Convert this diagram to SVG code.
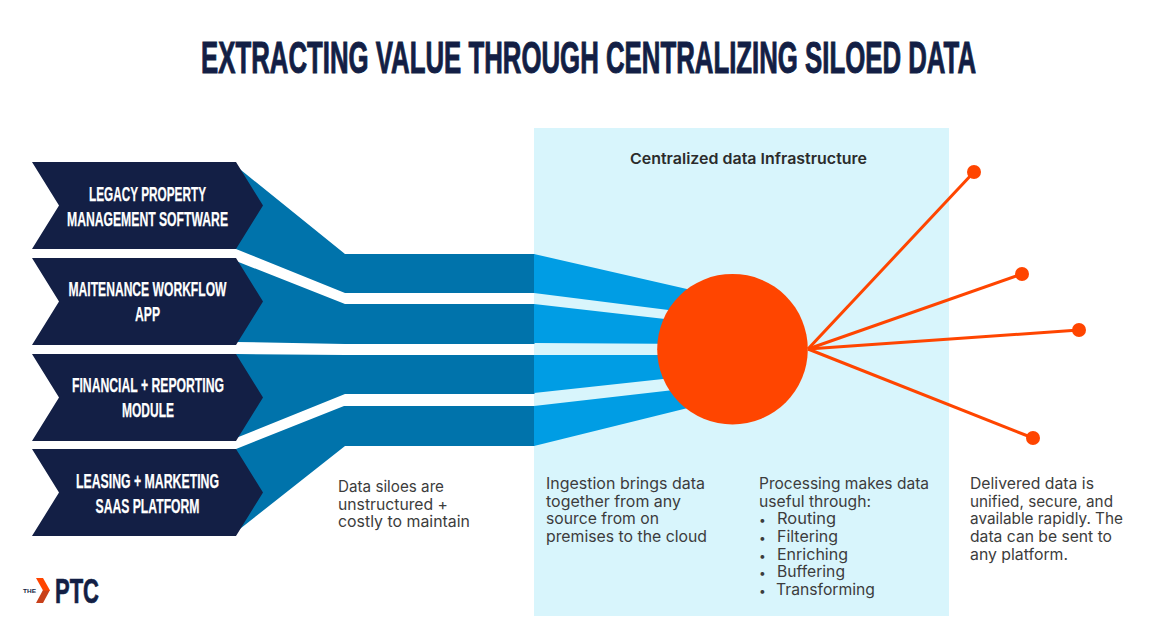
<svg xmlns="http://www.w3.org/2000/svg" width="1170" height="626" viewBox="0 0 1170 626">
<style>
.h{font-family:"Liberation Sans",Arial,sans-serif;font-weight:700;fill:#131F45;stroke:#131F45}
.n{font-family:"Liberation Sans",Arial,sans-serif;font-weight:700;font-size:21px;fill:#fff;text-anchor:middle;stroke:#fff;stroke-width:.25px}
.b{font-family:Inter,"Open Sans",sans-serif;font-size:15.5px;fill:#3c3c3c}
.s{font-size:12px}
.dark{fill:#0073AB}.light{fill:#009DE4}.chev{fill:#131F45}
.ray{stroke:#FF4500;stroke-width:3;fill:none}.dot{fill:#FF4500}
</style>
<rect width="1170" height="626" fill="#fff"/>
<text class="h" transform="translate(201 73) scale(.64 1)" x="0" y="0" font-size="44" stroke-width="1" textLength="1211" lengthAdjust="spacingAndGlyphs">EXTRACTING VALUE THROUGH CENTRALIZING SILOED DATA</text>
<rect id="panel" x="534" y="128" width="415" height="488" fill="#D8F5FC"/>
<text x="630" y="164" font-family="Inter,sans-serif" font-weight="600" font-size="15" fill="#2b2b2b" textLength="237" lengthAdjust="spacingAndGlyphs">Centralized data Infrastructure</text>
<g id="connectors">
<polygon class="dark" points="236,166 345,254 534.500,254 534.500,293 345,293 236,249"/>
<polygon class="dark" points="236,261 345,304 534.500,304 534.500,344 345,344 236,342"/>
<polygon class="dark" points="236,354 345,355 534.500,355 534.500,394 345,394 236,438"/>
<polygon class="dark" points="236,449 344,406 534.500,406 534.500,446 345,446 236,532"/>
<polygon class="light" points="534,254 700,292 700,314 534,293"/>
<polygon class="light" points="534,304 700,323 700,344 534,343"/>
<polygon class="light" points="534,355 700,355 700,375 534,393"/>
<polygon class="light" points="534,406 700,387 700,405 534,446"/>
<line class="ray" x1="808" y1="349" x2="974" y2="172"/>
<line class="ray" x1="808" y1="349" x2="1022" y2="274"/>
<line class="ray" x1="808" y1="349" x2="1079" y2="330"/>
<line class="ray" x1="808" y1="349" x2="1033" y2="438"/>
</g>
<g id="source-1"><polygon class="chev" points="32,162 236,162 263,205.500 236,249 32,249 59,205.500"/>
<text class="n" x="147.500" y="201" textLength="117" lengthAdjust="spacingAndGlyphs">LEGACY PROPERTY</text>
<text class="n" x="147.500" y="226" textLength="161" lengthAdjust="spacingAndGlyphs">MANAGEMENT SOFTWARE</text></g>
<g id="source-2"><polygon class="chev" points="32,258 236,258 263,301.500 236,345 32,345 59,301.500"/>
<text class="n" x="147.500" y="296" textLength="158" lengthAdjust="spacingAndGlyphs">MAITENANCE WORKFLOW</text>
<text class="n" x="147.500" y="321" textLength="25" lengthAdjust="spacingAndGlyphs">APP</text></g>
<g id="source-3"><polygon class="chev" points="32,354 236,354 263,397.500 236,441 32,441 59,397.500"/>
<text class="n" x="148" y="392" textLength="152" lengthAdjust="spacingAndGlyphs">FINANCIAL + REPORTING</text>
<text class="n" x="148" y="417" textLength="52" lengthAdjust="spacingAndGlyphs">MODULE</text></g>
<g id="source-4"><polygon class="chev" points="32,449 236,449 263,492.500 236,536 32,536 59,492.500"/>
<text class="n" x="147.500" y="488" textLength="143" lengthAdjust="spacingAndGlyphs">LEASING + MARKETING</text>
<text class="n" x="147.500" y="513" textLength="104" lengthAdjust="spacingAndGlyphs">SAAS PLATFORM</text></g>
<g id="hub"><circle cx="732.500" cy="349.200" r="75.300" class="dot"/></g>
<g id="endpoint-1"><circle cx="974" cy="172" r="7" class="dot"/></g>
<g id="endpoint-2"><circle cx="1022" cy="274" r="7" class="dot"/></g>
<g id="endpoint-3"><circle cx="1079" cy="330" r="7" class="dot"/></g>
<g id="endpoint-4"><circle cx="1033" cy="438" r="7" class="dot"/></g>
<g id="notes">
<text class="b" x="338" y="492" textLength="106" lengthAdjust="spacingAndGlyphs">Data siloes are</text>
<text class="b" x="338" y="510" textLength="110" lengthAdjust="spacingAndGlyphs">unstructured +</text>
<text class="b" x="338" y="527" textLength="132" lengthAdjust="spacingAndGlyphs">costly to maintain</text>
<text class="b" x="546" y="489" textLength="159" lengthAdjust="spacingAndGlyphs">Ingestion brings data</text>
<text class="b" x="546" y="507" textLength="135" lengthAdjust="spacingAndGlyphs">together from any</text>
<text class="b" x="546" y="524" textLength="113" lengthAdjust="spacingAndGlyphs">source from on</text>
<text class="b" x="546" y="542" textLength="161" lengthAdjust="spacingAndGlyphs">premises to the cloud</text>
<text class="b" x="759" y="489" textLength="170" lengthAdjust="spacingAndGlyphs">Processing makes data</text>
<text class="b" x="759" y="507" textLength="112" lengthAdjust="spacingAndGlyphs">useful through:</text>
<text class="b s" x="759" y="524">•</text><text class="b" x="777" y="524" textLength="59" lengthAdjust="spacingAndGlyphs">Routing</text>
<text class="b s" x="759" y="542">•</text><text class="b" x="777" y="542" textLength="61" lengthAdjust="spacingAndGlyphs">Filtering</text>
<text class="b s" x="759" y="560">•</text><text class="b" x="777" y="560" textLength="71" lengthAdjust="spacingAndGlyphs">Enriching</text>
<text class="b s" x="759" y="577">•</text><text class="b" x="777" y="577" textLength="68" lengthAdjust="spacingAndGlyphs">Buffering</text>
<text class="b s" x="759" y="595">•</text><text class="b" x="776" y="595" textLength="99" lengthAdjust="spacingAndGlyphs">Transforming</text>
<text class="b" x="970" y="489" textLength="124" lengthAdjust="spacingAndGlyphs">Delivered data is</text>
<text class="b" x="970" y="507" textLength="143" lengthAdjust="spacingAndGlyphs">unified, secure, and</text>
<text class="b" x="970" y="524" textLength="153" lengthAdjust="spacingAndGlyphs">available rapidly. The</text>
<text class="b" x="970" y="542" textLength="142" lengthAdjust="spacingAndGlyphs">data can be sent to</text>
<text class="b" x="970" y="560" textLength="98" lengthAdjust="spacingAndGlyphs">any platform.</text>
</g>
<g id="logo">
<text x="23" y="593" font-family="'Liberation Sans',sans-serif" font-weight="700" font-size="5.500" fill="#131F45" textLength="13" lengthAdjust="spacingAndGlyphs">THE</text>
<polygon points="43,590 50,590 43,603 36,603" fill="#C8401A"/>
<polygon points="36,578 43,578 50,590.500 43,590.500" fill="#FF4500"/>
<text class="h" x="55" y="603" font-size="35" stroke-width=".7" textLength="44" lengthAdjust="spacingAndGlyphs">PTC</text>
</g>
</svg>
